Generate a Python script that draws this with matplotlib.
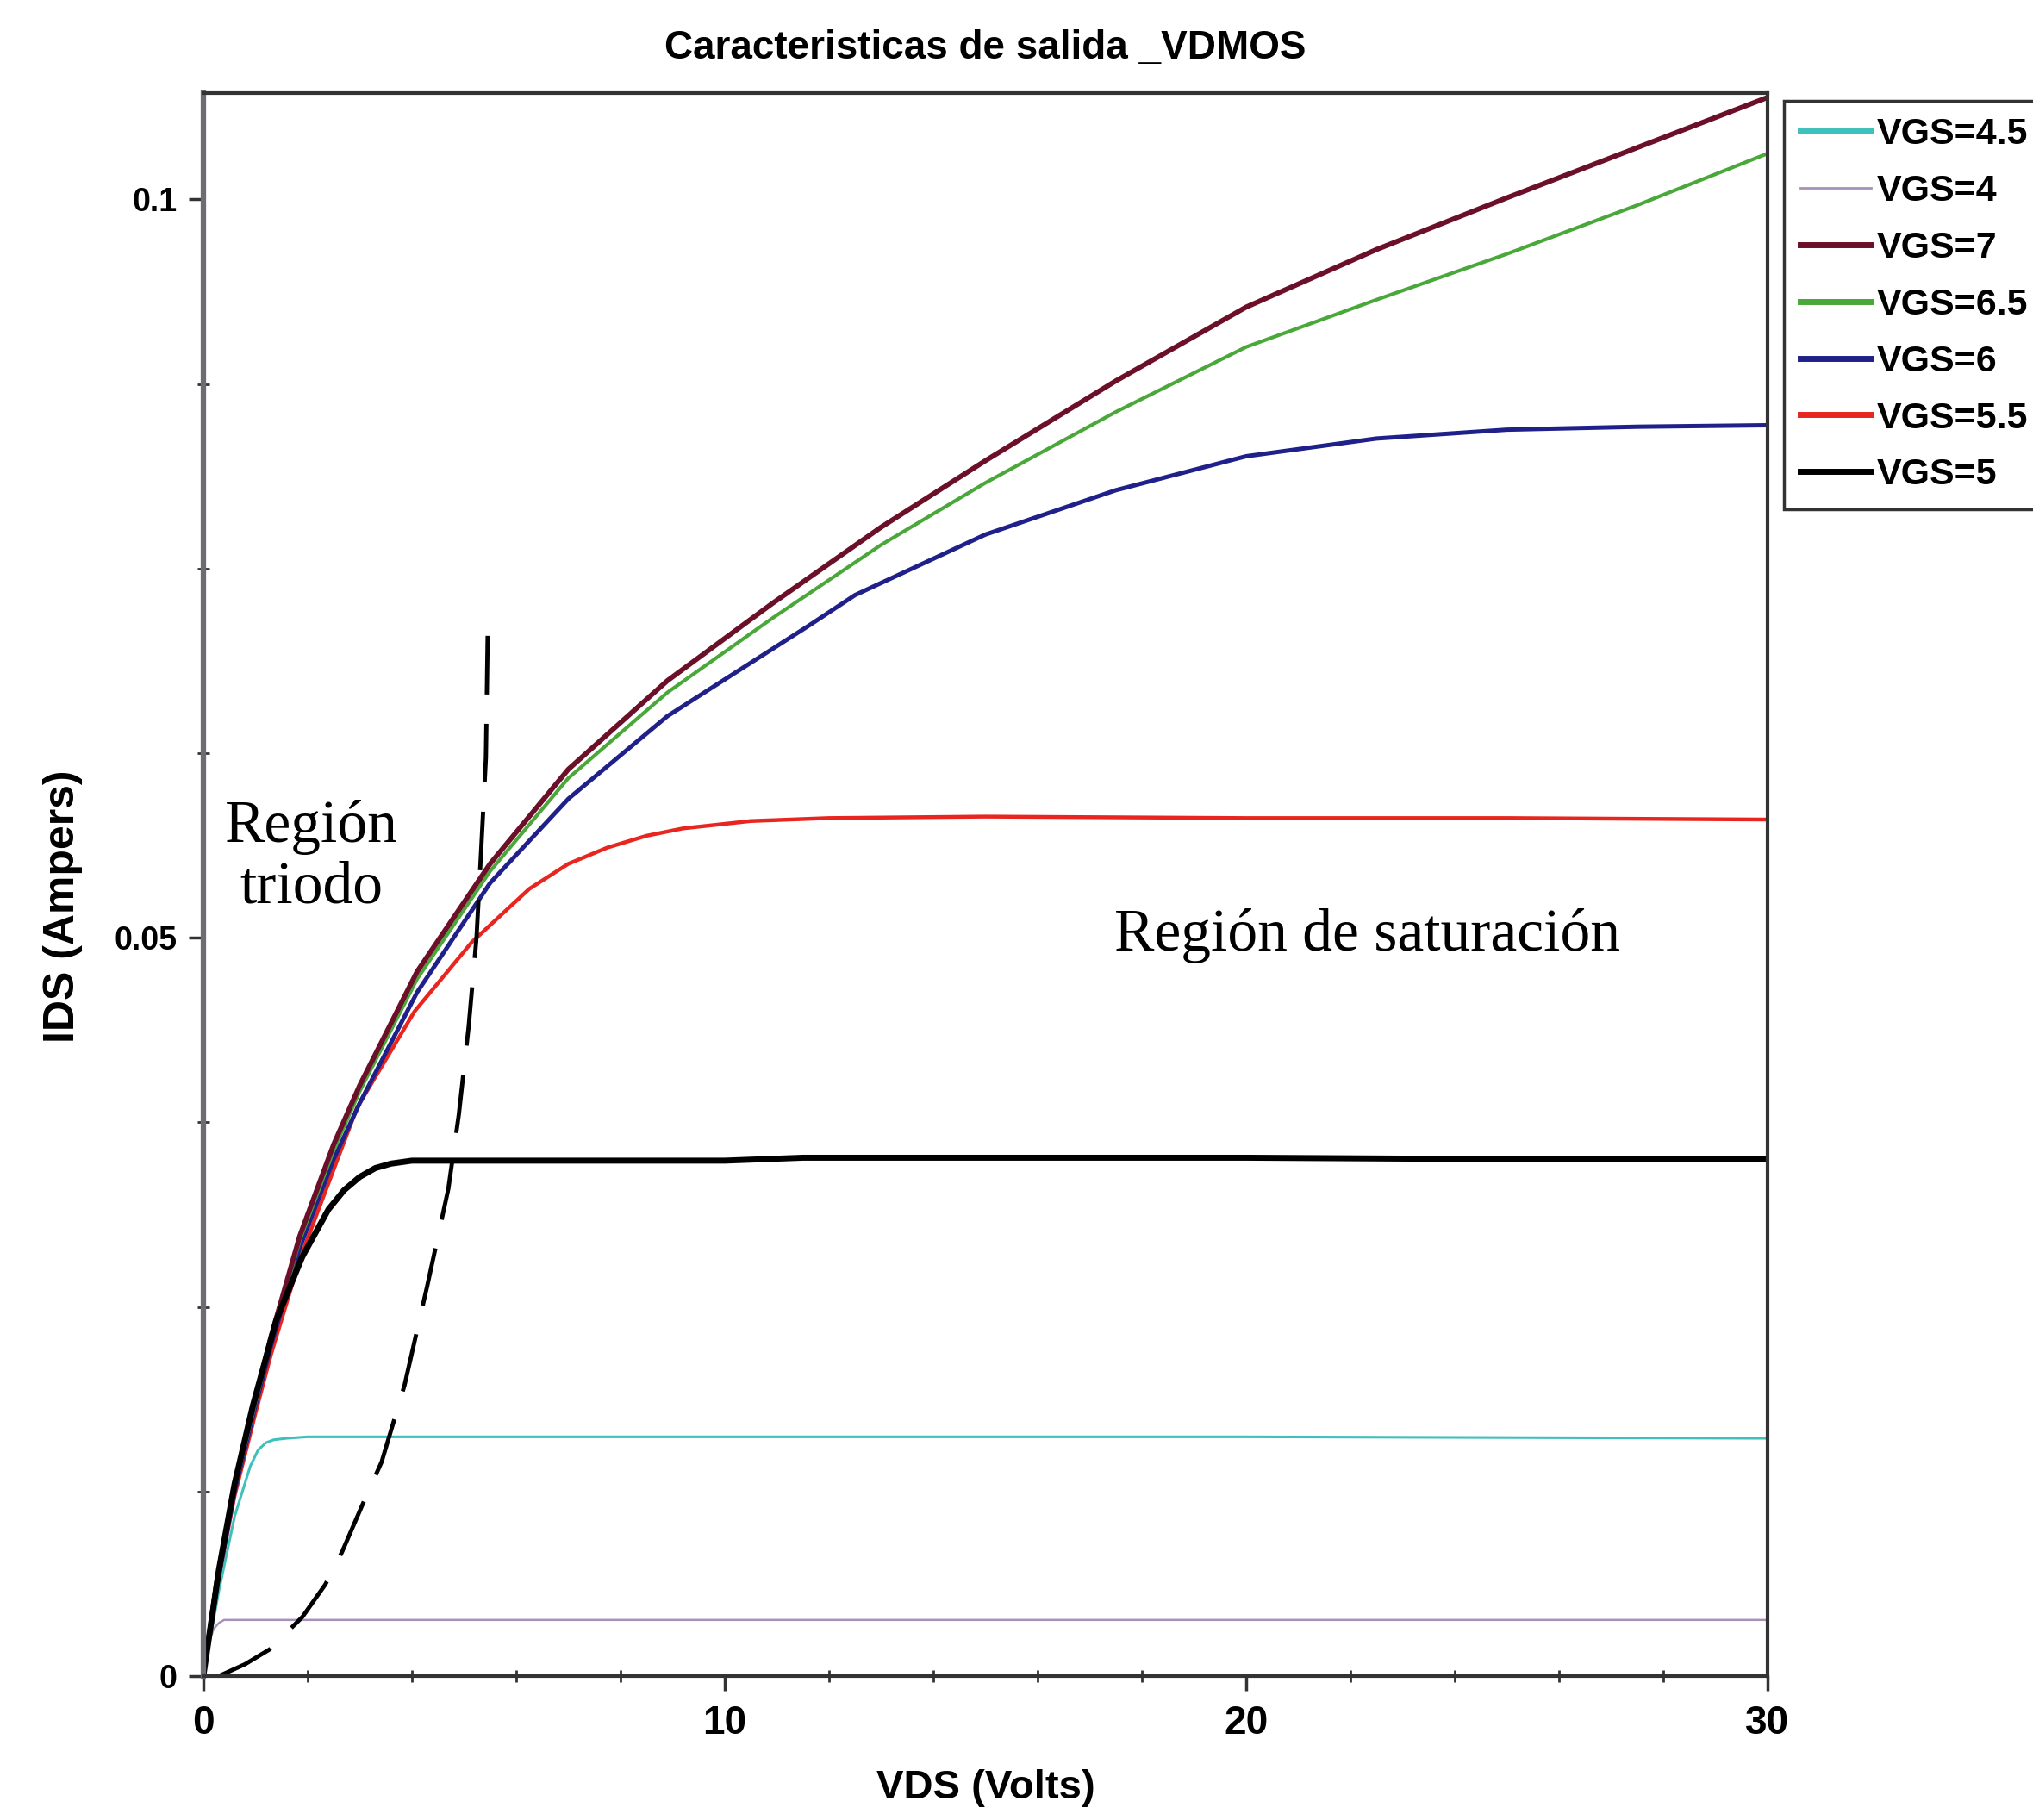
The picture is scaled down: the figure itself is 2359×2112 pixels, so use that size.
import matplotlib
matplotlib.use('Agg')
import matplotlib.pyplot as plt
from matplotlib.ticker import MultipleLocator

# curves read per gate voltage (VDS in volts, IDS in amperes)
vds_4 = [0, 0.1, 0.2, 0.3, 0.4, 0.6, 1.0, 10, 20, 30]
ids_4 = [0, 0.0022, 0.0032, 0.0036, 0.0038, 0.0038, 0.0038, 0.0038, 0.0038, 0.0038]

vds_45 = [0, 0.3, 0.6, 0.9, 1.05, 1.2, 1.35, 1.6, 2.0, 3.0, 10, 20, 30]
ids_45 = [0, 0.0058, 0.0108, 0.0142, 0.0153, 0.0158, 0.0160, 0.0161, 0.0162, 0.0162, 0.0162, 0.0162, 0.0161]

vds_5 = [0, 0.3, 0.6, 0.95, 1.4, 1.9, 2.4, 2.7, 3.0, 3.3, 3.6, 4.0, 5, 10, 11.5, 15, 20, 25, 30]
ids_5 = [0, 0.0072, 0.013, 0.0183, 0.0241, 0.0284, 0.0316, 0.0329, 0.0338, 0.0344, 0.0347, 0.0349,
         0.0349, 0.0349, 0.0351, 0.0351, 0.0351, 0.0350, 0.0350]

vds_55 = [0, 0.25, 0.6, 1.0, 1.3, 1.85, 2.2, 2.95, 4.05, 5.15, 6.25, 7.0, 7.75, 8.5, 9.2, 10.5, 12, 15, 20, 25, 30]
ids_55 = [0, 0.0058, 0.0122, 0.0178, 0.0218, 0.0282, 0.0315, 0.0385, 0.0450, 0.0497, 0.0533, 0.0550,
          0.0561, 0.0569, 0.0574, 0.0579, 0.0581, 0.0582, 0.0581, 0.0581, 0.0580]

vds_6 = [0, 0.25, 0.6, 1.0, 1.3, 1.85, 2.5, 3.0, 4.1, 5.5, 7.0, 8.9, 11.6, 12.5, 15, 17.5, 20, 22.5, 25, 27.5, 30]
ids_6 = [0, 0.0059, 0.0125, 0.0183, 0.0224, 0.029, 0.035, 0.0388, 0.0463, 0.0537, 0.0594, 0.0650,
         0.0711, 0.0732, 0.0773, 0.0803, 0.0826, 0.0838, 0.0844, 0.0846, 0.0847]

vds_65 = [0, 0.25, 0.6, 1.0, 1.3, 1.85, 2.5, 3.0, 4.1, 5.5, 7.0, 8.9, 10.9, 13, 15, 17.5, 20, 22.5, 25, 27.5, 30]
ids_65 = [0, 0.006, 0.0127, 0.0185, 0.0227, 0.0295, 0.0356, 0.0396, 0.0472, 0.0545, 0.0608, 0.0666,
          0.0716, 0.0766, 0.0808, 0.0856, 0.0900, 0.0932, 0.0963, 0.0996, 0.1031]

vds_7 = [0, 0.25, 0.6, 1.0, 1.3, 1.85, 2.5, 3.0, 4.1, 5.5, 7.0, 8.9, 10.9, 13, 15, 17.5, 20, 22.5, 25, 27.5, 30]
ids_7 = [0, 0.0062, 0.013, 0.0188, 0.0230, 0.0298, 0.0360, 0.0400, 0.0477, 0.055, 0.0614, 0.0674,
         0.0726, 0.0778, 0.0823, 0.0877, 0.0927, 0.0966, 0.1001, 0.1035, 0.1069]

# triode / saturation boundary
bnd_vds = [0.3, 0.8, 1.27, 1.9, 2.34, 2.66, 3.04, 3.42, 3.86, 4.3, 4.7, 4.9, 5.09, 5.24, 5.33, 5.42, 5.46]
bnd_ids = [0, 0.0008, 0.0018, 0.0040, 0.0062, 0.0084, 0.0115, 0.0145, 0.0197, 0.0265, 0.0330,
           0.0380, 0.0440, 0.0500, 0.0560, 0.0622, 0.0719]

legend_order = ['VGS=4.5', 'VGS=4', 'VGS=7', 'VGS=6.5', 'VGS=6', 'VGS=5.5', 'VGS=5']

sans = 'Liberation Sans'
serif = 'Liberation Serif'

fig = plt.figure(figsize=(23.59, 21.12), dpi=100)
ax = fig.add_axes([0.1000, 0.0791, 0.7694, 0.8698])

handles = {}
handles['VGS=4'], = ax.plot(vds_4, ids_4, color='#a891b6', lw=1.8, label='VGS=4')
handles['VGS=4.5'], = ax.plot(vds_45, ids_45, color='#3ec0bc', lw=2.2, label='VGS=4.5')
handles['VGS=5.5'], = ax.plot(vds_55, ids_55, color='#e8251f', lw=3.2, label='VGS=5.5')
handles['VGS=6'], = ax.plot(vds_6, ids_6, color='#20208a', lw=3.6, label='VGS=6')
handles['VGS=6.5'], = ax.plot(vds_65, ids_65, color='#4aa83a', lw=3.0, label='VGS=6.5')
handles['VGS=7'], = ax.plot(vds_7, ids_7, color='#6b1028', lw=4.2, label='VGS=7')
handles['VGS=5'], = ax.plot(vds_5, ids_5, color='black', lw=5.0, label='VGS=5')

ax.plot(bnd_vds, bnd_ids, color='black', lw=3.5, dashes=(14, 7))

ax.text(2.07, 0.0554, 'Región\ntriodo', family=serif, fontsize=50,
        ha='center', va='center', linespacing=1.15)
ax.text(22.33, 0.0501, 'Región de saturación', family=serif, fontsize=50,
        ha='center', va='center')

ax.set_xlim(0, 30)
ax.set_ylim(0, 0.1072)
ax.set_xticks([0, 10, 20, 30])
ax.set_xticklabels(['0', '10', '20', '30'])
ax.set_yticks([0, 0.05, 0.1])
ax.set_yticklabels(['0', '0.05', '0.1'])
ax.xaxis.set_minor_locator(MultipleLocator(2))
ax.yaxis.set_minor_locator(MultipleLocator(0.0125))

ax.tick_params(which='major', direction='out', length=12, width=2.5, color='#333333')
ax.tick_params(which='minor', direction='inout', length=10, width=2, color='#333333')
ax.tick_params(axis='x', which='major', pad=12)
ax.tick_params(axis='y', which='major', pad=10)
for lab in ax.get_xticklabels():
    lab.set_family(sans)
    lab.set_fontweight('bold')
    lab.set_fontsize(33)
for lab in ax.get_yticklabels():
    lab.set_family(sans)
    lab.set_fontweight('bold')
    lab.set_fontsize(27)

for side in ['top', 'bottom', 'right']:
    ax.spines[side].set_color('#333333')
    ax.spines[side].set_linewidth(3)
ax.spines['left'].set_color('#6c6c74')
ax.spines['left'].set_linewidth(4.5)

ax.set_xlabel('VDS (Volts)', family=sans, fontweight='bold', fontsize=34)
ax.xaxis.set_label_coords(0.5, -0.071)
ax.xaxis.label.set_va('center')
ax.set_ylabel('IDS (Ampers)', family=sans, fontweight='bold', fontsize=36)
ax.yaxis.set_label_coords(-0.090, 0.486)
ax.yaxis.label.set_va('center')

ax.text(0.5, 1.028, 'Caracteristicas de salida _VDMOS', transform=ax.transAxes,
        family=sans, fontweight='bold', fontsize=33, ha='center', va='center')

leg = fig.legend([handles[k] for k in legend_order], legend_order,
                 loc='upper left', bbox_to_anchor=(0.8775, 0.9446), borderaxespad=0,
                 prop={'family': sans, 'weight': 'bold', 'size': 31},
                 fancybox=False, edgecolor='#333333', framealpha=1,
                 handlelength=1.9, handletextpad=0.15, labelspacing=0.6, borderpad=0.45)
leg.get_frame().set_linewidth(2.5)
for line, lw in zip(leg.get_lines(), [5, 2, 5, 5, 5, 5, 5]):
    line.set_linewidth(lw)

fig.savefig('out.png', dpi=100, facecolor='w')
